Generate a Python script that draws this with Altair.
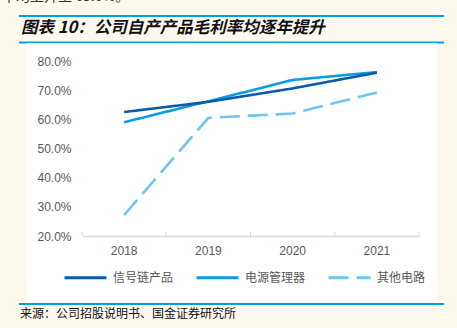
import altair as alt
import pandas as pd

years = ["2018", "2019", "2020", "2021"]
series_names = ["信号链产品", "电源管理器", "其他电路"]
signal_chain = [0.625, 0.660, 0.706, 0.760]
power_mgmt = [0.590, 0.662, 0.735, 0.762]
other_circuit = [0.272, 0.605, 0.620, 0.692]
y_ticks = [0.2, 0.3, 0.4, 0.5, 0.6, 0.7, 0.8]

title_text = "图表 10：公司自产产品毛利率均逐年提升"
source_text = "来源：公司招股说明书、国金证券研究所"
top_text = "率均上升至 65.6%。"

colors = ["#0B5CA8", "#0A9DE4", "#6DC5F2"]
dashes = [[1, 0], [1, 0], [20, 8]]

rows = []
for name, vals in zip(series_names, [signal_chain, power_mgmt, other_circuit]):
    for y, v in zip(years, vals):
        rows.append({"year": y, "series": name, "value": v})
df = pd.DataFrame(rows)

W, H = 337, 175
one = pd.DataFrame({"a": [0]})

x_enc = alt.X("year:N", sort=years, title=None,
              scale=alt.Scale(paddingInner=0, paddingOuter=0),
              axis=alt.Axis(labelAngle=0, labelFont="Liberation Sans", labelFontSize=12,
                            labelColor="#595959", domainColor="#D9D9D9", domainWidth=1.5,
                            tickSize=0, labelPadding=9, grid=False, zindex=1))
y_enc = alt.Y("value:Q", title=None,
              scale=alt.Scale(domain=[0.2, 0.8], nice=False, zero=False),
              axis=alt.Axis(values=y_ticks, format=".1%", labelFont="Liberation Sans",
                            labelFontSize=12, labelColor="#595959", domain=False,
                            ticks=False, grid=False, labelPadding=11, zindex=1))
legend_kw = dict(title=None, orient="none", direction="horizontal",
                 legendX=-19, legendY=194, symbolType="stroke",
                 symbolSize=1764, symbolStrokeWidth=3,
                 labelFont="Noto Sans CJK SC", labelFontSize=12,
                 labelColor="#595959", labelOffset=5, columnPadding=16, zindex=1)
color_enc = alt.Color("series:N", scale=alt.Scale(domain=series_names, range=colors),
                      sort=series_names, legend=alt.Legend(**legend_kw))
dash_enc = alt.StrokeDash("series:N", scale=alt.Scale(domain=series_names, range=dashes),
                          sort=series_names, legend=alt.Legend(**legend_kw))

# decorations
rule_color = "#00A0E9"
top_rule = alt.Chart(one).mark_rule(color=rule_color, strokeWidth=2).encode(
    x=alt.value(19 - 82), x2=alt.value(444 - 82), y=alt.value(16 - 61))
mid_rule = alt.Chart(one).mark_rule(color=rule_color, strokeWidth=2).encode(
    x=alt.value(19 - 82), x2=alt.value(444 - 82), y=alt.value(42.5 - 61))
bot_rule = alt.Chart(one).mark_rule(color=rule_color, strokeWidth=2).encode(
    x=alt.value(19 - 82), x2=alt.value(444 - 82), y=alt.value(304 - 61))
panel = alt.Chart(one).mark_rect(color="white").encode(
    x=alt.value(27 - 82), x2=alt.value(437 - 82), y=alt.value(43 - 61), y2=alt.value(302 - 61))
title = alt.Chart(one).mark_text(align="left", baseline="middle", font="Noto Sans CJK SC",
                                 fontSize=16.5, fontStyle="italic", fontWeight="bold",
                                 color="#111111").encode(
    x=alt.value(21 - 82), y=alt.value(28 - 61), text=alt.value(title_text))
source = alt.Chart(one).mark_text(align="left", baseline="middle", font="Noto Sans CJK SC",
                                  fontSize=12, color="#111111").encode(
    x=alt.value(20 - 82), y=alt.value(314 - 61), text=alt.value(source_text))
top = alt.Chart(one).mark_text(align="left", baseline="alphabetic", font="Noto Sans CJK SC",
                               fontSize=14, color="#333333").encode(
    x=alt.value(2 - 82), y=alt.value(1 - 61), text=alt.value(top_text))

ticks_df = pd.DataFrame({"year": years})
tick_start = alt.Chart(ticks_df).mark_rule(color="#D9D9D9", strokeWidth=1).encode(
    x=alt.X("year:N", sort=years, bandPosition=0), y=alt.value(H - 4), y2=alt.value(H))
tick_end = alt.Chart(pd.DataFrame({"year": [years[-1]]})).mark_rule(color="#D9D9D9", strokeWidth=1).encode(
    x=alt.X("year:N", sort=years, bandPosition=1), y=alt.value(H - 4), y2=alt.value(H))

line_layers = []
for name in reversed(series_names):
    line_layers.append(
        alt.Chart(df).transform_filter(alt.datum.series == name).mark_line(strokeWidth=2.6).encode(
            x=x_enc, y=y_enc, color=color_enc, strokeDash=dash_enc))

chart = alt.layer(top_rule, mid_rule, bot_rule, panel, title, source, top,
                  *line_layers, tick_start, tick_end).properties(
    width=W, height=H,
    padding={"left": 82, "top": 61, "right": 457 - 82 - W, "bottom": 328 - 61 - H},
    autosize=alt.AutoSizeParams(type="none"),
    background="#FDF9EE",
).configure_view(stroke=None, fill=None)

chart.save("out.html", embed_options={"renderer": "svg", "actions": False})
